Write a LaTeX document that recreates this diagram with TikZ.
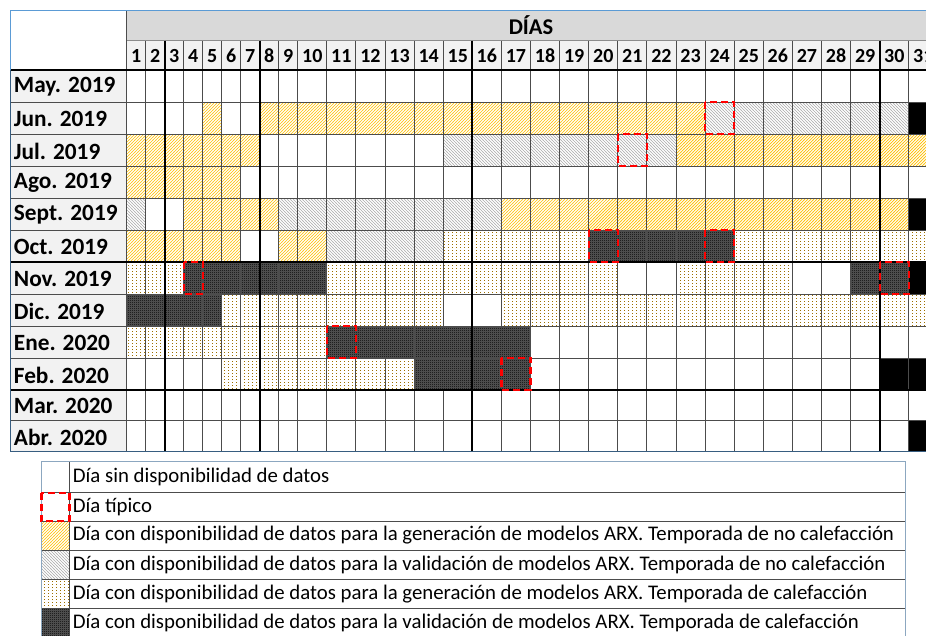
\documentclass[tikz,border=0pt]{standalone}
\usepackage{fontspec}
\setmainfont{Carlito}
\usetikzlibrary{patterns}

\definecolor{hdrgray}{HTML}{D9D9D9}
\definecolor{lblgray}{HTML}{F2F2F2}
\definecolor{hatchyellow}{HTML}{FFC000}
\definecolor{hatchgray}{HTML}{ABABAB}
\definecolor{dotgold}{HTML}{9C6F00}
\definecolor{edgeblue}{HTML}{5B9BD5}

% fill patterns of the cells
\pgfdeclarepatternformonly{hatchup}{\pgfqpoint{-0.5pt}{-0.5pt}}{\pgfqpoint{3.5pt}{3.5pt}}{\pgfqpoint{3pt}{3pt}}{
  \pgfsetlinewidth{0.7pt}
  \pgfpathmoveto{\pgfqpoint{-0.2pt}{-0.2pt}}
  \pgfpathlineto{\pgfqpoint{3.2pt}{3.2pt}}
  \pgfusepath{stroke}}
\pgfdeclarepatternformonly{hatchdown}{\pgfqpoint{-0.5pt}{-0.5pt}}{\pgfqpoint{3.5pt}{3.5pt}}{\pgfqpoint{3pt}{3pt}}{
  \pgfsetlinewidth{0.6pt}
  \pgfpathmoveto{\pgfqpoint{-0.2pt}{3.2pt}}
  \pgfpathlineto{\pgfqpoint{3.2pt}{-0.2pt}}
  \pgfusepath{stroke}}
\pgfdeclarepatternformonly{sparsedots}{\pgfqpoint{0pt}{0pt}}{\pgfqpoint{4pt}{3pt}}{\pgfqpoint{4pt}{3pt}}{
  \pgfpathrectangle{\pgfqpoint{0pt}{0pt}}{\pgfqpoint{1.1pt}{1.1pt}}
  \pgfusepath{fill}}
\pgfdeclarepatternformonly{checks}{\pgfqpoint{0pt}{0pt}}{\pgfqpoint{2pt}{2pt}}{\pgfqpoint{2pt}{2pt}}{
  \pgfpathrectangle{\pgfqpoint{0pt}{0pt}}{\pgfqpoint{1pt}{1pt}}
  \pgfpathrectangle{\pgfqpoint{1pt}{1pt}}{\pgfqpoint{1pt}{1pt}}
  \pgfusepath{fill}}

\tikzset{
  gennoheat/.style={fill=white, postaction={pattern=hatchup, pattern color=hatchyellow}},
  valnoheat/.style={fill=white, postaction={pattern=hatchdown, pattern color=hatchgray}},
  genheat/.style={fill=white, postaction={pattern=sparsedots, pattern color=dotgold}},
  valheat/.style={fill=black!65, postaction={pattern=checks, pattern color=black}},
  noday/.style={fill=black},
  typical/.style={draw=red, line width=2.4pt, dash pattern=on 7pt off 4pt},
  gridline/.style={draw=black!70, line width=0.9pt},
  heavyline/.style={draw=black, line width=1.8pt},
  daynum/.style={font=\bfseries\fontsize{20}{20}\selectfont, inner sep=0pt},
  month/.style={font=\bfseries\fontsize{23.3}{24}\selectfont, inner sep=0pt, anchor=west},
  legtext/.style={font=\fontsize{20.8}{21}\selectfont, inner sep=0pt, anchor=west}
}

\begin{document}
\begin{tikzpicture}[x=1pt, y=-1pt, thick,
  declare function={colx(\i)=(\i<10)*(126.7+(\i-1)*19)+(\i>=10)*(297.7+(\i-10)*29.1);
                    rowy(\i)=70+min(\i-1,10)*32+max(\i-11,0)*30.85;}]
\clip (0,0) rectangle (926,635);
\fill[white] (0,0) rectangle (926,635);
% header and label column
\fill[hdrgray] (126.7,10) rectangle (940,40.7);
\fill[lblgray] (126.7,40.7) rectangle (940,70);
\fill[lblgray] (10,70) rectangle (126.7,451.7);
\node[font=\bfseries\fontsize{22.5}{23}\selectfont, inner sep=0pt] (dias) at (531,25.5) {DÍAS};
\foreach \c in {1,...,31}
  \node[daynum] (d\c) at ({(colx(\c)+colx(\c+1))/2},56) {\c};
\foreach \m [count=\r] in {May. 2019, Jun. 2019, Jul. 2019, Ago. 2019, Sept. 2019, Oct. 2019,
    Nov. 2019, Dic. 2019, Ene. 2020, Feb. 2020, Mar. 2020, Abr. 2020}
  \node[month] (m\r) at (13.5,{(rowy(\r)+rowy(\r+1))/2+1}) {\m};
% days of each month: row/first day/last day/kind
\foreach \r/\a/\b/\s in {
    2/5/5/gennoheat, 2/8/23/gennoheat, 2/24/30/valnoheat, 2/31/31/noday,
    3/1/7/gennoheat, 3/15/22/valnoheat, 3/23/31/gennoheat,
    4/1/6/gennoheat,
    5/1/1/valnoheat, 5/4/8/gennoheat, 5/9/16/valnoheat, 5/17/30/gennoheat, 5/31/31/noday,
    6/1/6/gennoheat, 6/9/10/gennoheat, 6/11/14/valnoheat, 6/15/19/genheat, 6/20/24/valheat, 6/25/31/genheat,
    7/1/3/genheat, 7/4/10/valheat, 7/11/20/genheat, 7/23/26/genheat, 7/29/30/valheat, 7/31/31/noday,
    8/1/5/valheat, 8/6/14/genheat, 8/17/31/genheat,
    9/1/10/genheat, 9/11/17/valheat,
    10/6/13/genheat, 10/14/17/valheat, 10/30/31/noday,
    12/31/31/noday}
  \path[\s] ({colx(\a)},{rowy(\r)}) rectangle ({colx(\b+1)},{rowy(\r+1)});
% grid
\foreach \c in {1,...,32}
  \draw[gridline] ({colx(\c)},40.7) -- ({colx(\c)},451.7);
\foreach \r in {1,...,13}
  \draw[gridline] (10,{rowy(\r)}) -- (940,{rowy(\r)});
\draw[gridline, draw=black!45] (126.7,40.7) -- (940,40.7);
\draw[gridline] (126.7,10) -- (126.7,451.7);
\foreach \c in {3,8,16,30}
  \draw[heavyline] ({colx(\c)},40.7) -- ({colx(\c)},451.7);
\foreach \r in {1,7,11}
  \draw[heavyline] (10,{rowy(\r)}) -- (940,{rowy(\r)});
\draw[edgeblue, line width=1pt] (10,70) -- (10,10) -- (940,10);
\draw[black!40!edgeblue, line width=1pt] (10,70) -- (10,451.7) -- (940,451.7);
% typical days
\foreach \r/\c in {2/24, 3/21, 6/20, 6/24, 7/4, 7/30, 9/11, 10/17}
  \draw[typical] ({colx(\c)},{rowy(\r)}) rectangle ({colx(\c+1)},{rowy(\r+1)});
% legend
\path[gennoheat] (41.3,521) rectangle (69.3,550);
\path[valnoheat] (41.3,550) rectangle (69.3,579.3);
\path[genheat] (41.3,579.3) rectangle (69.3,608.3);
\path[valheat] (41.3,608.3) rectangle (69.3,640);
\foreach \y in {492.7,521,550,579.3,608.3}
  \draw[gridline] (41.3,\y) -- (905,\y);
\draw[gridline] (69.3,461.7) -- (69.3,640);
\draw[edgeblue!70!black!60, line width=1pt] (41.3,640) -- (41.3,461.7) -- (905,461.7) -- (905,640);
\draw[typical] (41.3,492.7) rectangle (69.3,521);
\node[legtext] (l1) at (72.5,477.2) {Día sin disponibilidad de datos};
\node[legtext] (l2) at (72.5,506.9) {Día típico};
\node[legtext] (l3) at (72.5,535.5) {Día con disponibilidad de datos para la generación de modelos ARX. Temporada de no calefacción};
\node[legtext] (l4) at (72.5,564.7) {Día con disponibilidad de datos para la validación de modelos ARX. Temporada de no calefacción};
\node[legtext] (l5) at (72.5,593.8) {Día con disponibilidad de datos para la generación de modelos ARX. Temporada de calefacción};
\node[legtext] (l6) at (72.5,622.6) {Día con disponibilidad de datos para la validación de modelos ARX. Temporada de calefacción};
\end{tikzpicture}
\end{document}
